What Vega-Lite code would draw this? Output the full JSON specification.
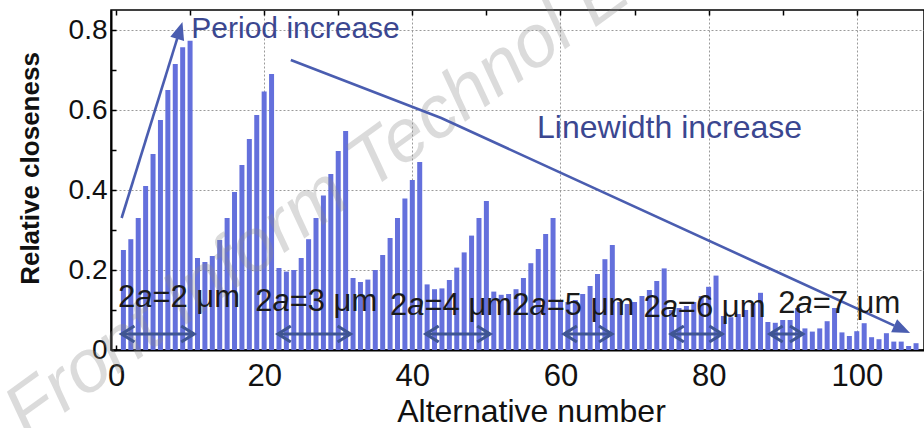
{
  "$schema": "https://vega.github.io/schema/vega-lite/v6.json",
  "width": 813,
  "height": 340,
  "autosize": "none",
  "padding": {"left": 111, "top": 10, "right": 0, "bottom": 78},
  "background": "white",
  "config": {
    "view": {"stroke": "#000", "strokeWidth": 1.5},
    "font": "Liberation Sans",
    "text": {"font": "Liberation Sans"}
  },
  "datasets": {
    "bars": [
      {"n":1,"v":0.25},{"n":2,"v":0.277},{"n":3,"v":0.33},{"n":4,"v":0.41},{"n":5,"v":0.49},{"n":6,"v":0.575},{"n":7,"v":0.65},{"n":8,"v":0.715},{"n":9,"v":0.757},{"n":10,"v":0.773},
      {"n":11,"v":0.23},{"n":12,"v":0.22},{"n":13,"v":0.235},{"n":14,"v":0.275},{"n":15,"v":0.33},{"n":16,"v":0.395},{"n":17,"v":0.4625},{"n":18,"v":0.5275},{"n":19,"v":0.5875},{"n":20,"v":0.646},
      {"n":21,"v":0.69},{"n":22,"v":0.205},{"n":23,"v":0.196},{"n":24,"v":0.2},{"n":25,"v":0.23},{"n":26,"v":0.277},{"n":27,"v":0.33},{"n":28,"v":0.386},{"n":29,"v":0.44},{"n":30,"v":0.4975},
      {"n":31,"v":0.5475},{"n":32,"v":0.18},{"n":33,"v":0.17},{"n":34,"v":0.176},{"n":35,"v":0.2},{"n":36,"v":0.2375},{"n":37,"v":0.28},{"n":38,"v":0.33},{"n":39,"v":0.379},{"n":40,"v":0.425},
      {"n":41,"v":0.47},{"n":42,"v":0.164},{"n":43,"v":0.152},{"n":44,"v":0.154},{"n":45,"v":0.175},{"n":46,"v":0.206},{"n":47,"v":0.244},{"n":48,"v":0.286},{"n":49,"v":0.33},{"n":50,"v":0.3725},
      {"n":51,"v":0.146},{"n":52,"v":0.138},{"n":53,"v":0.14},{"n":54,"v":0.152},{"n":55,"v":0.18},{"n":56,"v":0.217},{"n":57,"v":0.2525},{"n":58,"v":0.29},{"n":59,"v":0.33},{"n":60,"v":0.125},
      {"n":61,"v":0.12},{"n":62,"v":0.125},{"n":63,"v":0.14},{"n":64,"v":0.16},{"n":65,"v":0.19},{"n":66,"v":0.227},{"n":67,"v":0.2625},{"n":68,"v":0.12},{"n":69,"v":0.115},{"n":70,"v":0.12},
      {"n":71,"v":0.135},{"n":72,"v":0.15},{"n":73,"v":0.1725},{"n":74,"v":0.204},{"n":75,"v":0.1},{"n":76,"v":0.105},{"n":77,"v":0.11},{"n":78,"v":0.12},{"n":79,"v":0.135},{"n":80,"v":0.158},
      {"n":81,"v":0.186},{"n":82,"v":0.085},{"n":83,"v":0.082},{"n":84,"v":0.09},{"n":85,"v":0.1},{"n":86,"v":0.115},{"n":87,"v":0.143},{"n":88,"v":0.07},{"n":89,"v":0.068},{"n":90,"v":0.075},
      {"n":91,"v":0.075},{"n":92,"v":0.105},{"n":93,"v":0.054},{"n":94,"v":0.046},{"n":95,"v":0.054},{"n":96,"v":0.072},{"n":97,"v":0.105},{"n":98,"v":0.044},{"n":99,"v":0.035},{"n":100,"v":0.047},
      {"n":101,"v":0.067},{"n":102,"v":0.032},{"n":103,"v":0.027},{"n":104,"v":0.042},{"n":105,"v":0.021},{"n":106,"v":0.021},{"n":107,"v":0.01},{"n":108,"v":0.017}
    ],
    "trend": [
      {"id":"period","o":0,"n":0.76,"v":0.33},
      {"id":"period","o":1,"n":8.27,"v":0.779},
      {"id":"width","o":0,"n":23.6,"v":0.725},
      {"id":"width","o":1,"n":43.9,"v":0.58},
      {"id":"width","o":2,"n":105.07,"v":0.0608}
    ],
    "heads": [
      {"id":"period","n":8.97,"v":0.82},
      {"id":"width","n":107.2,"v":0.0425}
    ],
    "spans": [
      {"a":0.76,"b":10.53},
      {"a":21.87,"b":31.64},
      {"a":41.83,"b":50.49},
      {"a":60.49,"b":66.93},
      {"a":74.93,"b":81.83},
      {"a":88.27,"b":92.71}
    ],
    "labels": [
      {"n":0.27,"v":0.1075,"rest":"=2 μm"},
      {"n":18.8,"v":0.0975,"rest":"=3 μm"},
      {"n":37.0,"v":0.0875,"rest":"=4 μm"},
      {"n":53.5,"v":0.0875,"rest":"=5 μm"},
      {"n":71.2,"v":0.0825,"rest":"=6 μm"},
      {"n":89.4,"v":0.0925,"rest":"=7 μm"}
    ],
    "notes": [
      {"n":10.17,"v":0.779,"t":"Period increase","s":"p"},
      {"n":56.84,"v":0.529,"t":"Linewidth increase","s":"l"}
    ]
  },
  "layer": [
    {
      "data": {"name": "bars"},
      "mark": {"type": "bar", "width": 5, "color": "#6470dc", "clip": true},
      "encoding": {
        "x": {
          "field": "n", "type": "quantitative",
          "scale": {"domain": [0, 108.4], "nice": false, "zero": false},
          "axis": {
            "orient": "bottom",
            "values": [0,10,20,30,40,50,60,70,80,90,100],
            "labelExpr": "datum.value % 20 == 0 ? datum.label : ''",
            "format": "d",
            "grid": true,
            "gridColor": "#9a9a9a",
            "gridDash": [2, 2],
            "gridWidth": 1,
            "gridOpacity": {"condition": {"test": "datum.value % 20 == 0 && datum.value > 0", "value": 1}, "value": 0},
            "domainColor": "#000",
            "domainWidth": 2,
            "tickColor": "#000",
            "tickSize": -5,
            "tickWidth": 1.5,
            "labelFontSize": 31,
            "labelColor": "#111",
            "labelPadding": 16,
            "title": "Alternative number",
            "titleFontSize": 32,
            "titleFontWeight": "normal",
            "titleColor": "#111",
            "titleX": 420,
            "titleY": 71,
            "titleAlign": "center",
            "titleBaseline": "alphabetic"
          }
        },
        "y": {
          "field": "v", "type": "quantitative",
          "scale": {"domain": [0, 0.85], "nice": false},
          "axis": {
            "orient": "left",
            "values": [0,0.1,0.2,0.3,0.4,0.5,0.6,0.7,0.8],
            "labelExpr": "round(datum.value*10) % 2 == 0 ? format(datum.value, '.1~f') : ''",
            "grid": true,
            "gridColor": "#9a9a9a",
            "gridDash": [2, 2],
            "gridWidth": 1,
            "gridOpacity": {"condition": {"test": "round(datum.value*10) % 2 == 0 && datum.value > 0", "value": 1}, "value": 0},
            "domainColor": "#000",
            "domainWidth": 2,
            "tickColor": "#000",
            "tickSize": -5,
            "tickWidth": 1.5,
            "labelFontSize": 28,
            "labelColor": "#111",
            "labelPadding": 9,
            "title": "Relative closeness",
            "titleFontSize": 26,
            "titleFontWeight": "bold",
            "titleColor": "#111",
            "titleAngle": -90,
            "titleX": -81,
            "titleY": 158,
            "titleAlign": "center",
            "titleBaseline": "middle"
          }
        }
      }
    },
    {
      "data": {"values": [{"w": "Front Inform Technol Electron Eng"}]},
      "mark": {"type": "text", "align": "left", "baseline": "alphabetic", "angle": -36, "fontSize": 74, "fontStyle": "italic", "color": "#8a8a8a", "opacity": 0.3},
      "encoding": {
        "x": {"datum": -12, "type": "quantitative", "axis": null},
        "y": {"datum": -0.225, "type": "quantitative", "axis": null},
        "text": {"field": "w"}
      }
    },
    {
      "data": {"name": "trend"},
      "mark": {"type": "line", "color": "#4a5db0", "strokeWidth": 2.6},
      "encoding": {
        "x": {
          "field": "n", "type": "quantitative",
          "axis": {
            "orient": "top",
            "values": [0,10,20,30,40,50,60,70,80,90,100],
            "labels": false, "grid": false, "domain": false,
            "tickColor": "#000", "tickSize": -5, "tickWidth": 1.5, "title": null
          }
        },
        "y": {"field": "v", "type": "quantitative", "axis": null},
        "detail": {"field": "id"},
        "order": {"field": "o"}
      }
    },
    {
      "data": {"name": "heads"},
      "transform": [{"filter": "datum.id == 'period'"}],
      "mark": {"type": "point", "shape": "M0,0L-0.9,2.2L0.9,2.2Z", "filled": true, "size": 256, "angle": 17.4, "color": "#4a5db0", "opacity": 1},
      "encoding": {
        "x": {"field": "n", "type": "quantitative", "axis": null},
        "y": {"field": "v", "type": "quantitative", "axis": null}
      }
    },
    {
      "data": {"name": "heads"},
      "transform": [{"filter": "datum.id == 'width'"}],
      "mark": {"type": "point", "shape": "M0,0L-0.9,2.2L0.9,2.2Z", "filled": true, "size": 256, "angle": 114.5, "color": "#4a5db0", "opacity": 1},
      "encoding": {
        "x": {"field": "n", "type": "quantitative", "axis": null},
        "y": {"field": "v", "type": "quantitative", "axis": null}
      }
    },
    {
      "data": {"name": "spans"},
      "mark": {"type": "rule", "color": "#3f5593", "strokeWidth": 3},
      "encoding": {
        "x": {"field": "a", "type": "quantitative", "axis": null},
        "x2": {"field": "b"},
        "y": {"datum": 0.04, "type": "quantitative", "axis": null}
      }
    },
    {
      "data": {"name": "spans"},
      "mark": {"type": "point", "shape": "M1.6,-1L0,0L1.6,1", "filled": false, "size": 256, "strokeWidth": 3.2, "color": "#3f5593", "opacity": 1},
      "encoding": {
        "x": {"field": "a", "type": "quantitative", "axis": null},
        "y": {"datum": 0.04, "type": "quantitative", "axis": null}
      }
    },
    {
      "data": {"name": "spans"},
      "mark": {"type": "point", "shape": "M-1.6,-1L0,0L-1.6,1", "filled": false, "size": 256, "strokeWidth": 3.2, "color": "#3f5593", "opacity": 1},
      "encoding": {
        "x": {"field": "b", "type": "quantitative", "axis": null},
        "y": {"datum": 0.04, "type": "quantitative", "axis": null}
      }
    },
    {
      "data": {"name": "labels"},
      "mark": {"type": "text", "align": "left", "baseline": "alphabetic", "fontSize": 31, "color": "#1a1a1a"},
      "encoding": {
        "x": {"field": "n", "type": "quantitative", "axis": null},
        "y": {"field": "v", "type": "quantitative", "axis": null},
        "text": {"value": "2"}
      }
    },
    {
      "data": {"name": "labels"},
      "mark": {"type": "text", "align": "left", "baseline": "alphabetic", "fontSize": 31, "fontStyle": "italic", "dx": 17.2, "color": "#1a1a1a"},
      "encoding": {
        "x": {"field": "n", "type": "quantitative", "axis": null},
        "y": {"field": "v", "type": "quantitative", "axis": null},
        "text": {"value": "a"}
      }
    },
    {
      "data": {"name": "labels"},
      "mark": {"type": "text", "align": "left", "baseline": "alphabetic", "fontSize": 31, "dx": 34.4, "color": "#1a1a1a"},
      "encoding": {
        "x": {"field": "n", "type": "quantitative", "axis": null},
        "y": {"field": "v", "type": "quantitative", "axis": null},
        "text": {"field": "rest"}
      }
    },
    {
      "data": {"name": "notes"},
      "transform": [{"filter": "datum.s == 'p'"}],
      "mark": {"type": "text", "align": "left", "baseline": "alphabetic", "fontSize": 30, "color": "#3b4790"},
      "encoding": {
        "x": {"field": "n", "type": "quantitative", "axis": null},
        "y": {"field": "v", "type": "quantitative", "axis": null},
        "text": {"field": "t"}
      }
    },
    {
      "data": {"name": "notes"},
      "transform": [{"filter": "datum.s == 'l'"}],
      "mark": {"type": "text", "align": "left", "baseline": "alphabetic", "fontSize": 32, "color": "#3b4790"},
      "encoding": {
        "x": {"field": "n", "type": "quantitative", "axis": null},
        "y": {"field": "v", "type": "quantitative", "axis": null},
        "text": {"field": "t"}
      }
    }
  ],
  "resolve": {"axis": {"x": "independent", "y": "independent"}}
}
